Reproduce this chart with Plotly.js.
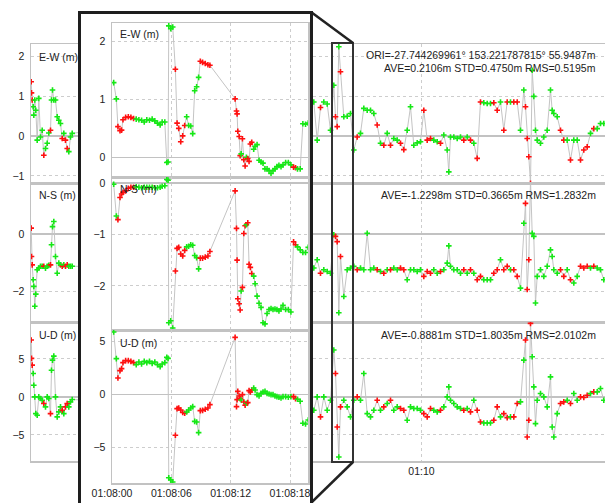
<!DOCTYPE html>
<html><head><meta charset="utf-8">
<script src="https://cdn.plot.ly/plotly-3.0.1.min.js"></script>
<style>
html,body{margin:0;padding:0;width:605px;height:503px;overflow:hidden;background:#fff;}
#bg{position:absolute;left:0;top:0;width:605px;height:503px;}
#inset{position:absolute;left:78px;top:11px;width:229px;height:500px;border:3px solid #1e1e1e;background:#fff;}
#inset .main-svg{overflow:visible !important;}
</style></head><body>
<div id="bg"></div><div id="inset"></div>
<script>
// ---------- background (full record) : seconds after 01:00:00 ----------
const bgTime = [209.7,210.0,210.7,211.7,212.3,213.3,214.3,215.7,217.3,219.0,220.7,222.3,224.0,225.7,227.3,229.0,230.0,231.0,232.3,234.0,235.7,237.3,239.0,240.7,242.3,244.0,245.7,247.3,249.0,250.7,
492.3,495.7,499.0,502.3,505.7,509.0,512.3,514.0,515.7,517.3,519.0,522.3,525.7,529.0,532.3,535.7,539.0,542.3,545.7,549.0,552.3,555.7,559.0,562.3,565.7,569.0,572.3,575.7,579.0,582.3,585.7,589.0,592.3,595.7,599.0,602.3,605.7,609.0,612.3,615.7,619.0,622.3,625.7,627.3,629.0,632.3,635.7,639.0,642.3,645.7,649.0,652.3,655.7,659.0,662.3,665.7,669.0,672.3,675.7,679.0,682.3,685.7,689.0,692.3,695.7,699.0,702.3,704.0,705.7,707.3,709.0,710.7,712.3,714.0,715.7,719.0,722.3,725.7,729.0,730.7,732.3,735.7,739.0,742.3,745.7,749.0,752.3,755.7,759.0,762.3,765.7,769.0,772.3,775.7,779.0,782.3];
const bgEW = [1.37,1.09,0.91,0.74,0.53,0.91,0.65,-0.10,0.95,-0.02,0.15,-0.48,-0.31,-0.18,0.08,0.15,0.91,1.16,0.91,0.91,0.49,0.40,0.32,-0.06,0.07,-0.10,-0.31,-0.39,-0.02,0.07,
0.86,-0.10,0.72,0.86,0.81,0.15,1.28,0.49,0.24,2.25,
1.62,0.49,0.50,0.57,-0.35,-0.02,0.07,0.70,0.65,0.65,
0.57,0.28,-0.18,-0.23,0.07,-0.23,-0.06,-0.10,-0.18,-0.34,
0.15,0.74,-0.23,-0.17,-0.14,0.65,-0.10,-0.06,-0.10,-0.14,
-0.18,0.03,-0.35,-0.90,-0.02,-0.02,-0.06,-0.02,-0.10,-0.02,
-0.10,-0.18,-0.56,0.86,0.84,0.82,0.82,0.84,0.65,0.86,
0.15,0.86,0.86,0.86,0.86,0.15,1.16,0.74,-0.06,-0.52,
-1.19,1.66,1.00,0.15,-0.10,-0.18,-0.02,0.15,1.16,0.65,
0.57,0.49,0.15,-0.10,-0.10,-0.60,-0.10,-0.10,-0.60,-0.35,
-0.27,0.07,0.19,0.19,0.32,0.32];
const bgNS = [0.20,-0.79,-1.08,-1.60,-1.83,-2.52,-2.10,-1.25,-1.19,-1.13,-1.13,-1.13,-1.20,-1.13,-1.10,-1.08,-0.38,0.25,0.43,-0.79,-1.37,-1.02,-1.08,-1.13,-1.08,-1.13,-1.08,-1.13,-1.13,-1.13,
-1.19,-0.90,-1.37,-1.25,-1.31,-1.37,-0.03,-0.09,-0.27,-2.75,
-0.79,-2.18,-1.25,-1.19,-1.13,-1.25,-1.19,-1.25,0.02,-1.25,
-1.19,-1.25,-1.31,-1.37,-1.25,-1.25,-1.19,-1.25,-1.19,-1.25,
-1.60,-1.25,-1.25,-1.31,-1.25,-1.48,-1.31,-1.37,-1.25,-1.37,
-1.31,-1.25,-1.02,-0.42,-1.13,-1.25,-1.25,-1.37,-1.25,-1.37,
-1.25,-1.37,-1.60,-1.48,-1.60,-1.60,-1.60,-1.37,-1.25,-0.90,
-1.25,-1.13,-1.25,-1.25,-1.48,-1.89,0.37,1.06,-1.94,-0.90,
1.88,0.02,-0.09,-2.41,-1.48,-1.25,-1.48,-1.13,-0.56,-0.79,
-1.25,-1.37,-1.25,-1.48,-1.25,-1.60,-1.71,-1.48,-1.13,-1.19,
-1.13,-1.19,-1.13,-1.19,-1.25,-1.60];
const bgUD = [7.49,5.07,4.19,3.08,1.54,0.00,-2.20,-2.42,0.00,-0.22,-0.44,-0.88,-1.32,0.00,-0.22,-2.20,3.52,4.85,5.37,0.00,-2.64,-1.98,-1.32,-1.76,-2.20,-1.32,-0.88,-1.32,-0.66,-0.35,
-1.76,0.00,-2.64,0.00,-1.76,-0.44,6.17,3.08,-3.96,-7.93,
-1.32,-0.44,-1.32,-2.64,-0.44,0.00,-0.44,3.08,-2.20,-2.64,
-1.76,-0.44,-1.76,-1.32,-0.88,-0.44,-1.76,-1.32,-1.54,-1.76,
-3.08,-1.32,-1.54,-1.54,-1.76,-2.20,-2.64,-1.54,-1.76,-1.98,
-1.76,-1.32,0.00,1.32,-0.44,-0.88,-1.32,-1.54,-1.76,-1.54,
-1.98,-0.44,-1.76,-3.30,-3.44,-3.44,-3.44,-3.08,-1.32,-2.64,
-2.20,-2.73,-2.64,-2.64,-0.88,-0.66,4.85,7.49,-5.29,-3.08,
9.69,5.29,1.32,-3.52,-0.44,0.44,0.00,-1.32,2.64,-3.96,
-5.29,-2.20,-0.88,-0.66,-0.44,-0.88,0.44,-0.44,0.00,-0.09,
0.22,0.44,0.66,0.66,1.10,-0.44];
// quality: 1 = fix (green), 2 = float (red)
const bgQ = [2,2,2,1,1,1,1,1,1,1,1,2,1,1,1,2,1,1,1,1,1,1,1,2,1,2,2,1,1,1,
1,1,2,1,1,1,1,2,2,1,
2,1,1,1,1,2,1,1,1,1,
1,2,1,2,1,2,1,1,2,2,
1,1,1,1,1,2,2,2,1,1,
2,1,1,1,1,1,1,1,2,1,
2,1,2,2,1,1,1,2,2,1,
2,2,1,2,2,1,1,2,2,2,
2,1,1,1,1,1,1,1,1,1,
1,1,2,2,1,2,1,1,2,2,
2,1,2,1,1,1];

// ---------- inset (zoom) : seconds after 01:08:00 ----------
const inTime = [0.17,0.44,0.60,0.81,0.97,1.11,1.38,1.65,1.91,2.18,2.45,2.72,2.99,3.26,3.52,3.79,4.06,4.33,4.60,4.87,
5.07,5.34,5.54,5.67,5.74,5.94,6.14,6.41,6.58,6.75,6.95,7.15,7.35,7.55,7.75,7.96,8.16,8.36,8.56,8.76,
8.93,9.16,9.43,9.70,9.90,12.45,12.59,12.65,12.72,12.86,12.96,13.06,13.19,13.33,13.46,13.59,13.73,13.86,13.99,14.13,
14.33,14.47,14.67,14.87,15.07,15.27,15.47,15.68,15.88,16.08,16.28,16.48,16.68,16.88,17.09,17.29,17.56,17.83,18.09,18.36,
18.56,18.76,19.03,19.30,19.57,19.84];
const inEW = [1.29,1.01,0.53,0.46,0.47,0.65,0.69,0.70,0.69,0.67,0.66,0.65,0.64,0.61,0.65,0.64,0.66,0.63,0.59,0.56,
0.61,0.61,-0.09,-0.08,2.27,2.22,2.25,1.52,0.59,0.50,0.27,0.37,0.55,0.70,0.55,0.54,0.41,1.15,1.22,1.38,
1.66,1.64,1.62,1.60,1.59,1.01,0.80,0.75,0.45,0.36,0.03,0.06,0.32,-0.04,-0.15,0.00,-0.02,-0.07,0.23,0.26,
0.14,0.19,0.22,-0.05,-0.08,-0.10,-0.20,-0.20,-0.23,-0.28,-0.23,-0.20,-0.16,-0.14,-0.16,-0.13,-0.09,-0.09,-0.13,-0.17,
-0.18,-0.20,-0.20,0.58,0.57,0.59];
const inNS = [-0.02,-0.64,-0.71,-0.28,-0.21,-0.18,-0.15,-0.10,-0.08,-0.08,-0.07,-0.08,-0.09,-0.08,-0.08,-0.08,-0.08,-0.09,-0.09,-0.08,
-0.06,-0.05,0.07,0.06,-2.72,-2.68,-2.82,-1.71,-1.27,-1.25,-1.38,-1.42,-1.31,-1.24,-1.23,-1.20,-1.21,-1.41,-1.45,-1.67,
-1.46,-1.46,-1.44,-1.42,-1.33,-0.15,-0.88,-1.50,-2.25,-2.35,-2.47,-2.10,-2.03,-0.98,-0.83,-0.81,-0.77,-1.58,-1.64,-1.76,
-1.81,-1.96,-2.20,-2.34,-2.42,-2.72,-2.74,-2.54,-2.46,-2.44,-2.46,-2.45,-2.46,-2.49,-2.45,-2.38,-2.46,-2.46,-2.51,-1.14,
-1.20,-1.24,-1.30,-1.35,-1.35,-1.25];
const inUD = [5.90,3.38,1.55,2.24,2.43,3.00,3.19,3.19,3.12,3.00,2.81,3.06,2.87,3.12,3.00,3.12,2.93,3.06,2.81,2.62,
2.87,3.00,3.50,3.40,-7.90,-8.10,-8.30,-3.88,-1.36,-1.29,-1.48,-1.73,-1.80,-1.67,-1.48,-1.29,-1.17,-2.56,-2.62,-3.63,
-1.55,-1.52,-1.42,-1.29,-0.98,5.39,-1.17,-0.50,0.28,-0.16,-0.41,-0.54,-0.03,-0.73,-1.04,-0.85,-0.79,0.35,0.22,0.41,
0.60,0.41,-0.03,-0.16,0.09,0.22,0.28,0.09,0.03,-0.03,-0.03,-0.16,-0.22,-0.28,-0.35,-0.22,-0.22,-0.28,-0.22,-0.22,
-0.41,-0.47,-0.66,-2.74,-2.81,-2.43];
const inQ = [1,1,2,2,2,2,2,2,2,2,1,1,1,1,1,1,1,1,1,1,
1,1,1,1,1,1,1,2,2,2,2,2,2,1,1,1,1,1,1,1,
2,2,2,2,2,2,2,2,2,2,2,1,2,2,2,1,2,2,2,2,
1,1,1,1,1,1,1,1,1,1,1,1,1,1,1,1,1,1,1,2,
2,1,1,1,1,1];

const panelLabels = ['E-W (m)','N-S (m)','U-D (m)'];
const oriText = 'ORI=-27.744269961° 153.221787815° 55.9487m';
const statText = ['AVE=0.2106m STD=0.4750m RMS=0.5195m','AVE=-1.2298m STD=0.3665m RMS=1.2832m','AVE=-0.8881m STD=1.8035m RMS=2.0102m'];

// ---------- styling ----------
const GREEN='#16e816', RED='#ff1010', LINE='#c4c4c4';
const FRAME='#c2c2c2', GRID='#cdcdcd';
const FONT={family:'Liberation Sans, Arial, sans-serif', size:10.5, color:'#222'};

function toDate(sec){
  const d=new Date(Date.UTC(2024,0,1,1,0,0)+Math.round(sec*1000));
  return d.toISOString().replace('T',' ').replace('Z','');
}
function trace(t, y, q, xa, ya, off){
  const c=q.map(v=>v===1?GREEN:RED);
  return {type:'scatter', mode:'lines+markers', x:t.map(s=>toDate(s+off)), y:y, xaxis:xa, yaxis:ya,
    line:{color:LINE, width:1}, hoverinfo:'skip',
    marker:{symbol:'cross-thin', size:4, color:c, line:{color:c, width:1.6}}};
}
function yax(domain, range, dtick, anchor, mirror){
  return {domain:domain, range:range, dtick:dtick, tick0:0, anchor:anchor, showgrid:true, gridcolor:GRID, griddash:'3px,3px', gridwidth:1,
    zeroline:true, zerolinecolor:FRAME, zerolinewidth:1.5, showline:true, linecolor:FRAME, linewidth:1.5, mirror:mirror,
    ticks:'', ticklabelstandoff:3, tickfont:FONT, fixedrange:true};
}
function xax(domain, range, dtick, tick0, fmt){
  return {type:'date', domain:domain, range:range, dtick:dtick, tick0:tick0, tickformat:fmt, anchor:'y3',
    showgrid:true, gridcolor:GRID, griddash:'3px,3px', gridwidth:1, zeroline:false, showline:true, linecolor:FRAME, linewidth:1.5,
    mirror:'all', ticks:'', tickfont:FONT, ticklabeloverflow:'allow', fixedrange:true};
}
function ann(text, x, y, xanchor, xref, yref){
  return {text:text, x:x, y:y, xref:xref, yref:yref, xanchor:xanchor, yanchor:'middle', showarrow:false, font:FONT, align:xanchor};
}

// ---------- background chart ----------
const W=605, H=503;
const bgDom=[[ (503-183)/503, (503-44)/503 ], [ (503-322)/503, (503-183)/503 ], [ (503-461)/503, (503-322)/503 ]];
const bgData=[trace(bgTime,bgEW,bgQ,'x','y',0), trace(bgTime,bgNS,bgQ,'x','y2',0), trace(bgTime,bgUD,bgQ,'x','y3',0)];
const px=(v)=>v/W, py=(v)=>1-v/H;
const bgLayout={
  width:W, height:H, margin:{l:0,r:0,t:0,b:0}, paper_bgcolor:'#fff', plot_bgcolor:'#fff', showlegend:false, font:FONT,
  xaxis:xax([31/W,1],[toDate(209.5),toDate(783.5)],300000,toDate(0),'%H:%M'),
  yaxis:yax(bgDom[0],[-1.18,2.32],1,'x',false),
  yaxis2:yax(bgDom[1],[-3.07,1.77],2,'x',false),
  yaxis3:yax(bgDom[2],[-8.45,9.87],5,'x',false),
  annotations:[
    ann(panelLabels[0],0.011,0.906,'left','x domain','y domain'),
    ann(panelLabels[1],0.011,0.914,'left','x domain','y2 domain'),
    ann(panelLabels[2],0.011,0.906,'left','x domain','y3 domain'),
    ann(oriText,0.988,0.918,'right','x domain','y domain'),
    ann(statText[0],0.988,0.83,'right','x domain','y domain'),
    ann(statText[1],0.988,0.914,'right','x domain','y2 domain'),
    ann(statText[2],0.988,0.906,'right','x domain','y3 domain')
  ],
  shapes:[
    {type:'rect',xref:'paper',yref:'paper',x0:px(332),x1:px(353),y0:py(462),y1:py(43),line:{color:'#333',width:2}},
    {type:'line',xref:'paper',yref:'paper',x0:px(311),y0:py(12),x1:px(353),y1:py(43),line:{color:'#222',width:2.5}},
    {type:'line',xref:'paper',yref:'paper',x0:px(353),y0:py(462),x1:px(311),y1:py(503),line:{color:'#222',width:2.5}}
  ]
};
Plotly.newPlot('bg', bgData, bgLayout, {staticPlot:true});

// ---------- inset chart ----------
const IW=229, IH=500;
const inDom=[[ (IH-163)/IH, (IH-9)/IH ], [ (IH-316)/IH, (IH-163)/IH ], [ (IH-469)/IH, (IH-316)/IH ]];
const inData=[trace(inTime,inEW,inQ,'x','y',480), trace(inTime,inNS,inQ,'x','y2',480), trace(inTime,inUD,inQ,'x','y3',480)];
const inLayout={
  width:IW, height:IH, margin:{l:0,r:0,t:0,b:0}, paper_bgcolor:'#fff', plot_bgcolor:'#fff', showlegend:false, font:FONT,
  xaxis:xax([31/IW,227.3/IW],[toDate(480),toDate(499.85)],6000,toDate(480),'%H:%M:%S'),
  yaxis:yax(inDom[0],[-0.34,2.32],1,'x',true),
  yaxis2:yax(inDom[1],[-2.86,0.12],1,'x',true),
  yaxis3:yax(inDom[2],[-8.40,6.09],5,'x',true),
  annotations:[
    ann(panelLabels[0],0.031,0.929,'left','x domain','y domain'),
    ann(panelLabels[1],0.031,0.922,'left','x domain','y2 domain'),
    ann(panelLabels[2],0.031,0.915,'left','x domain','y3 domain')
  ]
};
Plotly.newPlot('inset', inData, inLayout, {staticPlot:true});
</script>
</body></html>
